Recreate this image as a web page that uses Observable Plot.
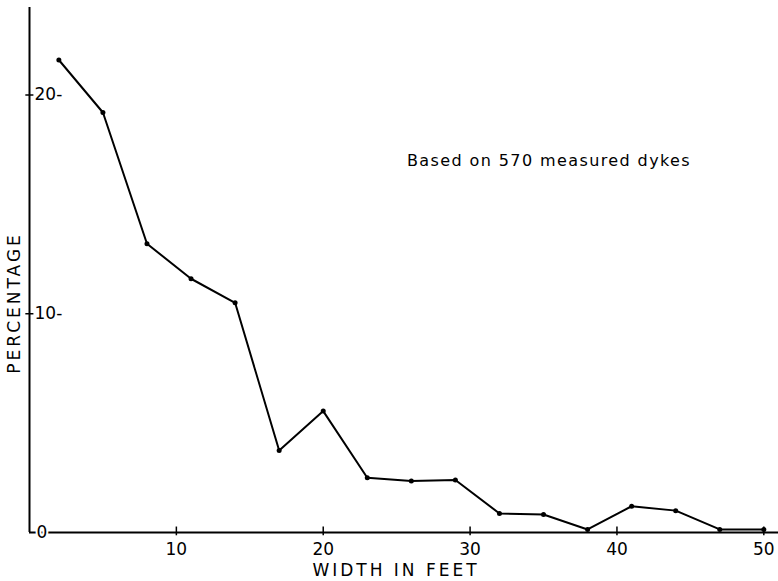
<!DOCTYPE html>
<html>
<head>
<meta charset="utf-8">
<script src="https://cdn.jsdelivr.net/npm/d3@7"></script>
<script src="https://cdn.jsdelivr.net/npm/@observablehq/plot@0.6"></script>
<style>
  html, body { margin: 0; padding: 0; background: #fff; }
  #chart svg { display: block; }
</style>
</head>
<body>
<div id="chart"></div>
<script>
// Data
const widthFeet = [2, 5, 8, 11, 14, 17, 20, 23, 26, 29, 32, 35, 38, 41, 44, 47, 50];
const percentage = [21.6, 19.2, 13.2, 11.6, 10.5, 3.75, 5.55, 2.5, 2.35, 2.4, 0.87, 0.82, 0.14, 1.2, 1.0, 0.14, 0.14];
const xTicks = [10, 20, 30, 40, 50];
const yTicks = [10, 20];
const xLabel = "WIDTH IN FEET";
const yLabel = "PERCENTAGE";
const note = "Based on 570 measured dykes";
const noteAt = [{x: 25.7, y: 17.0}];

const data = widthFeet.map((w, i) => ({w, p: percentage[i]}));
const font = "DejaVu Sans, sans-serif";

const chart = Plot.plot({
  width: 778,
  height: 581,
  marginLeft: 29,
  marginRight: 0,
  marginTop: 7,
  marginBottom: 49,
  style: {fontFamily: font, background: "#fff", color: "#000"},
  x: {domain: [0, 51], axis: null},
  y: {domain: [0, 24], axis: null},
  marks: [
    // axis lines
    Plot.ruleX([0], {y1: 0, y2: 24, stroke: "#000", strokeWidth: 2}),
    Plot.ruleY([0], {x1: 0, x2: 51, stroke: "#000", strokeWidth: 2}),
    // x ticks crossing the axis
    Plot.ruleX(xTicks, {x: d => d, y1: -0.15, y2: 0.25, stroke: "#000", strokeWidth: 1.5}),
    Plot.text(xTicks, {x: d => d, y: 0, dy: 17, text: d => String(d), fontSize: 17, fill: "#000"}),
    // y ticks crossing the axis
    Plot.ruleY(yTicks, {y: d => d, x1: -0.25, x2: 0.3, stroke: "#000", strokeWidth: 1.5}),
    Plot.text(yTicks, {x: 0, y: d => d, dx: 5, text: d => d + "-", textAnchor: "start", fontSize: 17, fill: "#000"}),
    Plot.text([0], {x: 0, y: 0, dx: 7, text: d => String(d), textAnchor: "start", fontSize: 17, fill: "#000", stroke: "#fff", strokeWidth: 4}),
    // data
    Plot.line(data, {x: "w", y: "p", stroke: "#000", strokeWidth: 2}),
    Plot.dot(data, {x: "w", y: "p", r: 2.5, fill: "#000"}),
    // annotation
    Plot.text(noteAt, {x: "x", y: "y", text: () => note, textAnchor: "start", fontSize: 16, fill: "#000"}),
    // axis titles
    Plot.text([xLabel], {frameAnchor: "bottom", text: d => d, dx: -8, dy: 38, lineAnchor: "middle", fontSize: 17, fill: "#000"}),
    Plot.text([yLabel], {frameAnchor: "left", text: d => d, rotate: -90, textAnchor: "middle", dx: -15, dy: 33, fontSize: 17, fill: "#000"})
  ]
});
const spacing = new Map([[xLabel, "3px"], [yLabel, "3px"], [note, "1.4px"]]);
d3.select(chart).selectAll("text").each(function () {
  const s = spacing.get(this.textContent);
  if (s) this.style.letterSpacing = s;
});
document.getElementById("chart").append(chart);
</script>
</body>
</html>
